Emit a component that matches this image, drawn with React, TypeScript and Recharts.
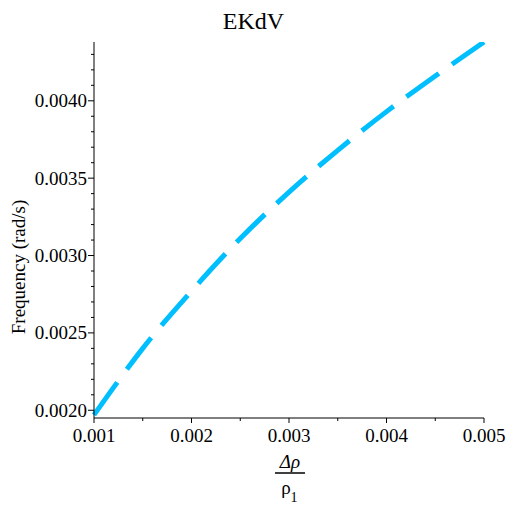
import { Label, Line, LineChart, XAxis, YAxis } from 'recharts';

// Δρ/ρ1 values and the frequency
const RATIO = [0.001, 0.00125, 0.0015, 0.002, 0.0025, 0.003, 0.0035, 0.004, 0.0045, 0.005];
const FREQUENCY = [0.00197, 0.00219, 0.0024, 0.00277, 0.00311, 0.00341, 0.00368, 0.00393, 0.00416, 0.00438];

const X_TICKS = [0.001, 0.0015, 0.002, 0.0025, 0.003, 0.0035, 0.004, 0.0045, 0.005];
const X_LABELS = ['0.001', '0.002', '0.003', '0.004', '0.005'];

const Y_TICKS = [
  0.002, 0.0021, 0.0022, 0.0023, 0.0024, 0.0025, 0.0026, 0.0027, 0.0028, 0.0029,
  0.003, 0.0031, 0.0032, 0.0033, 0.0034, 0.0035, 0.0036, 0.0037, 0.0038, 0.0039,
  0.004, 0.0041, 0.0042, 0.0043,
];
const Y_LABELS = ['0.0020', '0.0025', '0.0030', '0.0035', '0.0040'];

const FONT = '"Liberation Serif", "Times New Roman", serif';
const CYAN = '#00BFFF';

const data = RATIO.map((x, i) => ({ x, y: FREQUENCY[i] }));

// label text for a tick value, or undefined for a minor tick
const findLabel = (labels: string[], value: number) =>
  labels.find((l) => Math.abs(Number(l) - value) < 1e-9);

function XTick(props: any) {
  const { x, y, payload } = props;
  const text = findLabel(X_LABELS, Number(payload.value));
  return (
    <g>
      <line x1={x} x2={x} y1={y} y2={y + (text ? 5 : 3)} stroke="#000" strokeWidth={1} />
      {text && (
        <text x={x} y={y + 24} textAnchor="middle" fontFamily={FONT} fontSize={19} fill="#000">
          {text}
        </text>
      )}
    </g>
  );
}

function YTick(props: any) {
  const { x, y, payload } = props;
  const text = findLabel(Y_LABELS, Number(payload.value));
  return (
    <g>
      <line x1={x - (text ? 6 : 3)} x2={x} y1={y} y2={y} stroke="#000" strokeWidth={1} />
      {text && (
        <text x={x - 7} y={y + 6.5} textAnchor="end" fontFamily={FONT} fontSize={19} fill="#000">
          {text}
        </text>
      )}
    </g>
  );
}

function FractionLabel(props: any) {
  const { x, y, width } = props.viewBox;
  const cx = x + width / 2 + 1;
  return (
    <g fontFamily={FONT} fill="#000">
      <text x={cx} y={y + 50} textAnchor="middle" fontSize={19} fontStyle="italic">
        Δρ
      </text>
      <line x1={cx - 15} x2={cx + 15} y1={y + 55} y2={y + 55} stroke="#000" strokeWidth={1.5} />
      <text x={cx - 4} y={y + 76} textAnchor="middle" fontSize={19}>
        ρ
      </text>
      <text x={cx + 4} y={y + 84} textAnchor="middle" fontSize={14}>
        1
      </text>
    </g>
  );
}

function FrequencyLabel(props: any) {
  const { x, y, height } = props.viewBox;
  const cy = y + height / 2 + 37;
  return (
    <text
      x={x + 25}
      y={cy}
      transform={`rotate(-90, ${x + 25}, ${cy})`}
      textAnchor="middle"
      fontFamily={FONT}
      fontSize={19}
      fill="#000"
    >
      Frequency (rad/s)
    </text>
  );
}

export default function App() {
  return (
    <div style={{ position: 'absolute', left: 0, top: 0, width: 507, height: 505, background: '#fff' }}>
      <div
        style={{
          position: 'absolute',
          left: 0,
          top: 9,
          width: 507,
          textAlign: 'center',
          fontFamily: FONT,
          fontSize: 24,
          lineHeight: '24px',
        }}
      >
        EKdV
      </div>
      <LineChart width={507} height={505} data={data} margin={{ top: 42, right: 23, bottom: 0, left: 0 }}>
        <XAxis
          dataKey="x"
          type="number"
          domain={[0.001, 0.005]}
          ticks={X_TICKS}
          interval={0}
          height={87}
          tickSize={0}
          tickMargin={0}
          tickLine={false}
          tick={<XTick />}
          axisLine={{ stroke: '#000', strokeWidth: 1 }}
        >
          <Label content={<FractionLabel />} />
        </XAxis>
        <YAxis
          dataKey="y"
          type="number"
          domain={[0.00195, 0.00438]}
          allowDataOverflow
          ticks={Y_TICKS}
          interval={0}
          width={94}
          tickSize={0}
          tickMargin={0}
          tickLine={false}
          tick={<YTick />}
          axisLine={{ stroke: '#000', strokeWidth: 1 }}
        >
          <Label content={<FrequencyLabel />} />
        </YAxis>
        <Line
          dataKey="y"
          type="monotone"
          stroke={CYAN}
          strokeWidth={5}
          strokeDasharray="40 16"
          dot={false}
          isAnimationActive={false}
        />
      </LineChart>
    </div>
  );
}
